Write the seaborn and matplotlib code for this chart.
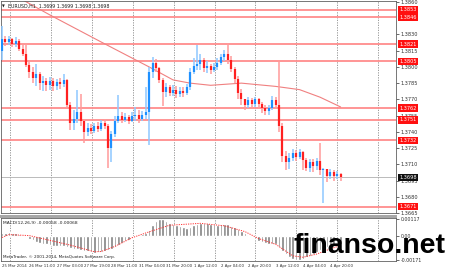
import numpy as np
import pandas as pd
import matplotlib
matplotlib.use("Agg")
import matplotlib.pyplot as plt
from matplotlib.patches import Rectangle
import seaborn as sns

# ---------------- data (EURUSD, 2-hour steps) ----------------
first_open = 1.3815
closes = [1.3826, 1.3823, 1.3826, 1.3821, 1.3824, 1.3817, 1.3812, 1.3802, 1.3795, 1.3790,
          1.3793, 1.3785, 1.3787, 1.3783, 1.3787, 1.3782, 1.3786, 1.3784, 1.3788, 1.3765,
          1.3748, 1.3752, 1.3758, 1.3750, 1.3740, 1.3744, 1.3741, 1.3745, 1.3743, 1.3748,
          1.3745, 1.3725, 1.3738, 1.3750, 1.3755, 1.3751, 1.3754, 1.3750, 1.3755, 1.3756,
          1.3752, 1.3756, 1.3758, 1.3795, 1.3804, 1.3799, 1.3788, 1.3777, 1.3781, 1.3776,
          1.3779, 1.3775, 1.3778, 1.3776, 1.3781, 1.3795, 1.3801, 1.3803, 1.3806, 1.3799,
          1.3801, 1.3797, 1.3800, 1.3804, 1.3809, 1.3812, 1.3806, 1.3798, 1.3789, 1.3776,
          1.3770, 1.3765, 1.3769, 1.3766, 1.3770, 1.3766, 1.3762, 1.3759, 1.3762, 1.3769,
          1.3765, 1.3745, 1.3718, 1.3712, 1.3716, 1.3720, 1.3717, 1.3721, 1.3714, 1.3707,
          1.3712, 1.3708, 1.3713, 1.3705, 1.3706, 1.3699, 1.3703, 1.3699, 1.3701, 1.3698]
highs = [1.3838, 1.3829, 1.3829, 1.3827, 1.3828, 1.3826, 1.3820, 1.3822, 1.3805, 1.3800,
         1.3803, 1.3795, 1.3792, 1.3790, 1.3791, 1.3790, 1.3789, 1.3790, 1.3793, 1.3789,
         1.3768, 1.3760, 1.3779, 1.3775, 1.3752, 1.3748, 1.3747, 1.3748, 1.3749, 1.3751,
         1.3752, 1.3747, 1.3741, 1.3755, 1.3774, 1.3758, 1.3757, 1.3756, 1.3758, 1.3763,
         1.3760, 1.3759, 1.3781, 1.3800, 1.3809, 1.3807, 1.3800, 1.3790, 1.3785, 1.3783,
         1.3783, 1.3782, 1.3781, 1.3781, 1.3784, 1.3799, 1.3808, 1.3820, 1.3812, 1.3808,
         1.3805, 1.3803, 1.3804, 1.3808, 1.3812, 1.3816, 1.3822, 1.3810, 1.3800, 1.3792,
         1.3780, 1.3770, 1.3772, 1.3771, 1.3772, 1.3771, 1.3768, 1.3765, 1.3765, 1.3773,
         1.3772, 1.3806, 1.3748, 1.3722, 1.3720, 1.3724, 1.3723, 1.3724, 1.3722, 1.3716,
         1.3715, 1.3715, 1.3716, 1.3730, 1.3707, 1.3706, 1.3706, 1.3705, 1.3704, 1.3702]
lows = [1.3806, 1.3819, 1.3820, 1.3818, 1.3818, 1.3815, 1.3810, 1.3800, 1.3790, 1.3785,
        1.3782, 1.3779, 1.3778, 1.3778, 1.3779, 1.3778, 1.3779, 1.3780, 1.3781, 1.3762,
        1.3742, 1.3742, 1.3748, 1.3745, 1.3730, 1.3736, 1.3738, 1.3739, 1.3740, 1.3741,
        1.3743, 1.3707, 1.3712, 1.3735, 1.3748, 1.3748, 1.3749, 1.3747, 1.3749, 1.3750,
        1.3748, 1.3750, 1.3752, 1.3728, 1.3790, 1.3795, 1.3785, 1.3764, 1.3772, 1.3773,
        1.3773, 1.3771, 1.3772, 1.3772, 1.3774, 1.3779, 1.3793, 1.3797, 1.3797, 1.3795,
        1.3794, 1.3793, 1.3795, 1.3797, 1.3802, 1.3805, 1.3803, 1.3795, 1.3785, 1.3770,
        1.3765, 1.3760, 1.3762, 1.3762, 1.3763, 1.3761, 1.3757, 1.3756, 1.3756, 1.3760,
        1.3761, 1.3740, 1.3712, 1.3705, 1.3706, 1.3713, 1.3713, 1.3715, 1.3705, 1.3704,
        1.3703, 1.3703, 1.3705, 1.3700, 1.3674, 1.3694, 1.3696, 1.3695, 1.3696, 1.3695]

ma_idx = [6, 14, 29, 43, 50, 55, 61, 70, 80, 87, 93, 99]
ma_val = [1.3862, 1.3848, 1.3823, 1.3800, 1.3788, 1.3785, 1.3783, 1.3785, 1.3782, 1.3779, 1.3772, 1.3763]

macd_hist = [0.00015, 0.00020, 0.00022, 0.00020, 0.00016, 0.00008, -0.00002, -0.00012,
             -0.00022, -0.00032, -0.00042, -0.00050, -0.00056, -0.00061, -0.00066,
             -0.00070, -0.00071, -0.00070, -0.00072,
             -0.00078, -0.00085, -0.00092, -0.00096, -0.00099,
             -0.00104, -0.00110, -0.00115, -0.00118, -0.00116,
             -0.00112, -0.00106, -0.00100, -0.00092, -0.00080,
             -0.00066, -0.00053, -0.00040, -0.00028, -0.00016,
             -0.00005, 0.00006, 0.00012, 0.00016,
             0.00040, 0.00075, 0.00100, 0.00117, 0.00112,
             0.00100, 0.00090, 0.00080, 0.00072, 0.00064, 0.00058, 0.00054,
             0.00060, 0.00072, 0.00082, 0.00088,
             0.00088, 0.00086, 0.00082, 0.00078, 0.00075, 0.00077, 0.00080,
             0.00078, 0.00070, 0.00060, 0.00046,
             0.00030, 0.00015, 0.00002,
             -0.00012, -0.00024, -0.00034, -0.00042, -0.00050, -0.00055, -0.00058, -0.00060,
             -0.00080, -0.00108, -0.00130, -0.00150, -0.00163, -0.00171,
             -0.00168, -0.00160, -0.00150, -0.00138, -0.00125, -0.00112, -0.00100,
             -0.00090, -0.00080, -0.00072, -0.00066, -0.00061, -0.00058]
sig_idx = [0, 2, 8, 14, 20, 27, 29, 33, 38, 43, 49, 58, 65, 71, 75, 80, 85, 88, 92, 96, 99]
sig_val = [-0.00013, 0.00007, 0.0, -0.00033, -0.00066, -0.00112, -0.00110, -0.00075, -0.00015,
           0.00026, 0.00072, 0.00085, 0.00068, 0.00028, -0.00020, -0.00060, -0.00140,
           -0.00150, -0.00128, -0.00092, -0.00068]

levels = [1.3853, 1.3846, 1.3821, 1.3805, 1.3762, 1.3751, 1.3732, 1.3671]
last_price = 1.3698
price_ticks = [1.3860, 1.3830, 1.3815, 1.3800, 1.3785, 1.3770, 1.3755, 1.3740,
               1.3725, 1.3710, 1.3695, 1.3680, 1.3665]
macd_ticks = [0.00117, 0.0, -0.00171]
macd_tick_labels = ["0.00117", "0.00", "-0.00171"]
x_label_idx = [0, 8, 16, 24, 32, 40, 48, 56, 64, 72, 80, 88, 96]
x_labels = ["25 Mar 2014", "26 Mar 11:00", "27 Mar 03:00", "27 Mar 19:00", "28 Mar 11:00",
            "31 Mar 04:00", "31 Mar 20:00", "1 Apr 12:00", "2 Apr 04:00", "2 Apr 20:00",
            "3 Apr 12:00", "4 Apr 04:00", "4 Apr 20:00"]
title_text = "EURUSD,H1  1.3699 1.3699 1.3698 1.3698"
macd_text = "MACD(12,26,9) -0.00058 -0.00068"
copyright_text = "MetaTrader, \u00a9 2001-2014, MetaQuotes Software Corp."

# ---------------- build frames ----------------
n = len(closes)
opens = [first_open] + closes[:-1]
df = pd.DataFrame({"i": np.arange(n), "open": opens, "close": closes,
                   "high": highs, "low": lows, "macd": macd_hist})
df["bull"] = df["close"] >= df["open"]
ma_df = pd.DataFrame({"i": ma_idx, "ma": ma_val})
sig_df = pd.DataFrame({"i": sig_idx, "sig": sig_val})

sns.set_style("white")
plt.rcParams["font.family"] = ["DejaVu Sans"]

W, H = 450, 269
fig = plt.figure(figsize=(W / 100, H / 100), dpi=100)
fig.patch.set_facecolor("white")

def fx(px):
    return px / W

def fy(py):
    return 1 - py / H

ax = fig.add_axes([fx(1), fy(213), fx(395), 212 / H])
ax2 = fig.add_axes([fx(1), fy(261), fx(395), 43 / H])

xlim = (-0.3, 115.2)
for a in (ax, ax2):
    a.set_xlim(*xlim)
    a.set_facecolor("white")
    for s in a.spines.values():
        s.set_color("#606060")
        s.set_linewidth(0.6)

ax.set_ylim(1.36650, 1.38609)
ax2.set_ylim(-0.00176, 0.00122)

# vertical daily grid (dotted)
for a in (ax, ax2):
    for k in range(10):
        a.axvline(2.4 + 11.95 * k, color="#8a8a8a", lw=0.6, ls=(0, (1.5, 1.5)), zorder=0)

# horizontal levels
for lv in levels:
    ax.axhline(lv, color="#ff8c8c", lw=1.3, zorder=1)
ax.axhline(last_price, color="#b0b0b0", lw=0.6, zorder=1)

# moving average
sns.lineplot(data=ma_df, x="i", y="ma", ax=ax, color="#f08080", lw=0.8, zorder=2,
             legend=False)

# candles
bull = df[df["bull"]]
bear = df[~df["bull"]]
ax.vlines(bull["i"], bull["low"], bull["high"], color="#8ec8ff", lw=1.1, zorder=3)
ax.vlines(bear["i"], bear["low"], bear["high"], color="#ff9a9a", lw=1.1, zorder=3)
ax.vlines(bull["i"], bull["open"], bull["close"], color="#1e90ff", lw=1.6, zorder=4)
ax.vlines(bear["i"], bear["close"], bear["open"], color="#ff2020", lw=1.6, zorder=4)

ax.set_xlabel("")
ax.set_ylabel("")
ax.set_xticks([])
ax.yaxis.tick_right()
ax.set_yticks(price_ticks)
ax.set_yticklabels([f"{v:.4f}" for v in price_ticks])
ax.tick_params(axis="y", labelsize=3.6, length=2, width=0.5, pad=1.5, colors="#303030")

# right-side level boxes
for lv in levels:
    ax.annotate(f"{lv:.4f}", xy=(1, lv), xycoords=("axes fraction", "data"),
                xytext=(2.2, 0), textcoords="offset points", ha="left", va="center",
                fontsize=3.6, color="white", annotation_clip=False, zorder=6,
                bbox=dict(boxstyle="square,pad=0.25", fc="#ff1010", ec="none"))
ax.annotate(f"{last_price:.4f}", xy=(1, last_price), xycoords=("axes fraction", "data"),
            xytext=(2.2, 0), textcoords="offset points", ha="left", va="center",
            fontsize=3.6, color="white", annotation_clip=False, zorder=6,
            bbox=dict(boxstyle="square,pad=0.25", fc="#101010", ec="none"))

ax.text(0.018, 0.985, title_text, transform=ax.transAxes, fontsize=3.4,
        color="#202020", ha="left", va="top")
ax.text(0.003, 0.985, "\u25bc", transform=ax.transAxes, fontsize=2.6,
        color="#202020", ha="left", va="top")

# MACD panel
ax2.bar(df["i"], df["macd"], width=0.75, color="#808080", zorder=2)
sns.lineplot(data=sig_df, x="i", y="sig", ax=ax2, color="#ff3030", lw=0.7,
             ls=(0, (1.2, 1.2)), zorder=3, legend=False)
ax2.set_xlabel("")
ax2.set_ylabel("")
ax2.yaxis.tick_right()
ax2.set_yticks(macd_ticks)
ax2.set_yticklabels(macd_tick_labels)
ax2.tick_params(axis="y", labelsize=3.4, length=2, width=0.5, pad=1.5, colors="#303030")
ax2.set_xticks(x_label_idx)
ax2.set_xticklabels(x_labels, ha="left")
ax2.tick_params(axis="x", labelsize=2.8, length=1.5, width=0.5, pad=0.6, colors="#303030")
ax2.text(0.006, 0.93, macd_text, transform=ax2.transAxes, fontsize=3.2,
         color="#202020", ha="left", va="top")
ax2.text(0.006, 0.04, copyright_text, transform=ax2.transAxes, fontsize=3.0,
         color="#202020", ha="left", va="bottom")

# separator band between panels
fig.patches.append(Rectangle((fx(0), fy(217.5)), fx(397), 2.5 / H,
                             transform=fig.transFigure, fc="#a8a8a8", ec="none", zorder=5))

# watermark
fig.text(fx(294), fy(253), "finanso.net", fontsize=20.5, fontweight="bold",
         family=["Liberation Sans", "DejaVu Sans"], color="black",
         ha="left", va="baseline", zorder=10)

fig.savefig("out.png", dpi=100, facecolor="white")
